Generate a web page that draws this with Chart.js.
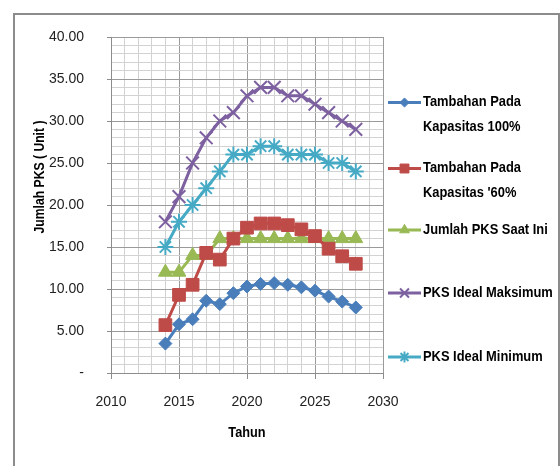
<!DOCTYPE html>
<html><head><meta charset="utf-8">
<script src="https://cdn.jsdelivr.net/npm/chart.js@4"></script>
<style>html,body{margin:0;padding:0;background:#fff}#wrap{position:relative;width:560px;height:466px}</style>
</head><body><div id="wrap"><canvas id="c" width="560" height="466"></canvas></div>
<script>
// ---- data ----
const years = [2014,2015,2016,2017,2018,2019,2020,2021,2022,2023,2024,2025,2026,2027,2028];
const tambahan100 = [3.5,5.8,6.4,8.6,8.2,9.5,10.3,10.6,10.7,10.5,10.2,9.8,9.1,8.5,7.8];
const tambahan60 = [5.7,9.3,10.5,14.3,13.5,16.0,17.3,17.8,17.8,17.6,17.1,16.3,14.8,13.9,13.0];
const saatIni = [12,12,14,14,16,16,16,16,16,16,16,16,16,16,16];
const idealMaks = [18,21,25,28,30,31,33,34,34,33,33,32,31,30,29];
const idealMin = [15,18,20,22,24,26,26,27,27,26,26,26,25,25,24];
const seriesLabels = [["Tambahan Pada","Kapasitas 100%"],["Tambahan Pada","Kapasitas '60%"],["Jumlah PKS Saat Ini"],["PKS Ideal Maksimum"],["PKS Ideal Minimum"]];
const xTitle = "Tahun";
const yTitle = "Jumlah PKS ( Unit )";
const xMin = 2010, xMax = 2030, yMin = 0, yMax = 40;

const FF = '"Liberation Sans",Arial,sans-serif';
Chart.defaults.font.family = FF;

const styles = [
  {color:'#4a7ebb', point:'rectRot', r:6.5, bw:1},
  {color:'#be4b48', point:'rect', r:9, bw:1},
  {color:'#98b954', point:'triangle', r:8, bw:1},
  {color:'#7d60a0', point:'crossRot', r:9, bw:2},
  {color:'#46aac5', point:'star', r:8, bw:2}
];
const seriesValues = [tambahan100, tambahan60, saatIni, idealMaks, idealMin];

const datasets = seriesValues.map((vals,i)=>({
  label: seriesLabels[i].join(' '),
  data: years.map((y,j)=>({x:y, y:vals[j]})),
  borderColor: styles[i].color,
  backgroundColor: styles[i].color,
  pointBackgroundColor: styles[i].color,
  pointBorderColor: styles[i].color,
  pointStyle: styles[i].point,
  pointRadius: styles[i].r,
  pointBorderWidth: styles[i].bw,
  borderWidth: 3,
  tension: 0,
  fill: false
}));

const minorC = '#d2d2d2', majorC = '#9a9a9a';

function narrowText(ctx, text, x, y, sx){
  ctx.save(); ctx.translate(x, y); ctx.scale(sx, 1); ctx.fillText(text, 0, 0); ctx.restore();
}

const decor = {
  id:'decor',
  afterDraw(chart){
    const ctx = chart.ctx;
    ctx.save();
    // frame
    ctx.strokeStyle = '#8c8c8c'; ctx.lineWidth = 2;
    ctx.strokeRect(14, 14, 545, 470);
    // y title
    ctx.fillStyle = '#000';
    ctx.font = 'bold 14px ' + FF;
    ctx.textAlign = 'center'; ctx.textBaseline = 'middle';
    ctx.save(); ctx.translate(40, 177); ctx.rotate(-Math.PI/2); narrowText(ctx, yTitle, 0, 0, 0.87); ctx.restore();
    // x title
    ctx.font = 'bold 15px ' + FF;
    narrowText(ctx, xTitle, (chart.chartArea.left + chart.chartArea.right)/2, 433, 0.85);
    // legend
    const ys = [102.5, 168.5, 230, 293, 357];
    ctx.textAlign = 'left';
    seriesLabels.forEach((lines,i)=>{
      const y = ys[i], s = styles[i];
      ctx.strokeStyle = s.color; ctx.fillStyle = s.color; ctx.lineWidth = 3;
      ctx.beginPath(); ctx.moveTo(388, y); ctx.lineTo(421, y); ctx.stroke();
      ctx.lineWidth = s.bw;
      Chart.helpers.drawPoint(ctx, {pointStyle:s.point, radius:s.r*0.7, rotation:0, borderWidth:s.bw}, 404.5, y);
      ctx.fillStyle = '#000';
      ctx.font = 'bold 15px ' + FF;
      lines.forEach((t,k)=>narrowText(ctx, t, 423, y - (lines.length>1?1:0) + k*25.5, 0.86));
    });
    ctx.restore();
  }
};

new Chart(document.getElementById('c'), {
  type:'line',
  data:{datasets},
  options:{
    responsive:false, animation:false, devicePixelRatio:1,
    layout:{padding:{top:37, right:177, left:0, bottom:0}},
    plugins:{legend:{display:false}, tooltip:{enabled:false}},
    scales:{
      x:{
        type:'linear', min:xMin, max:xMax,
        afterFit(s){ s.height = 93; },
        ticks:{stepSize:1, autoSkip:false, maxRotation:0, color:'#222', font:{size:14}, padding:15,
          callback:v=> (v%5===0 ? String(v) : '')},
        grid:{color:c=> (c.tick && c.tick.value%5===0 ? majorC : minorC), lineWidth:1, tickLength:6,
          tickColor:c=> (c.tick && c.tick.value%5===0 ? '#8c8c8c' : 'rgba(0,0,0,0)')},
        border:{color:'#8c8c8c', width:1}
      },
      y:{
        min:yMin, max:yMax,
        afterFit(s){ s.width = 111; },
        ticks:{stepSize:1, autoSkip:false, color:'#222', font:{size:14}, padding:23,
          callback:v=> (v%5===0 ? (v===0 ? '-' : v.toFixed(2)) : '')},
        grid:{color:c=> (c.tick && c.tick.value%5===0 ? majorC : minorC), lineWidth:1, tickLength:4,
          tickColor:c=> (c.tick && c.tick.value%5===0 ? '#8c8c8c' : 'rgba(0,0,0,0)')},
        border:{color:'#8c8c8c', width:1}
      }
    }
  },
  plugins:[decor]
});
</script></body></html>
